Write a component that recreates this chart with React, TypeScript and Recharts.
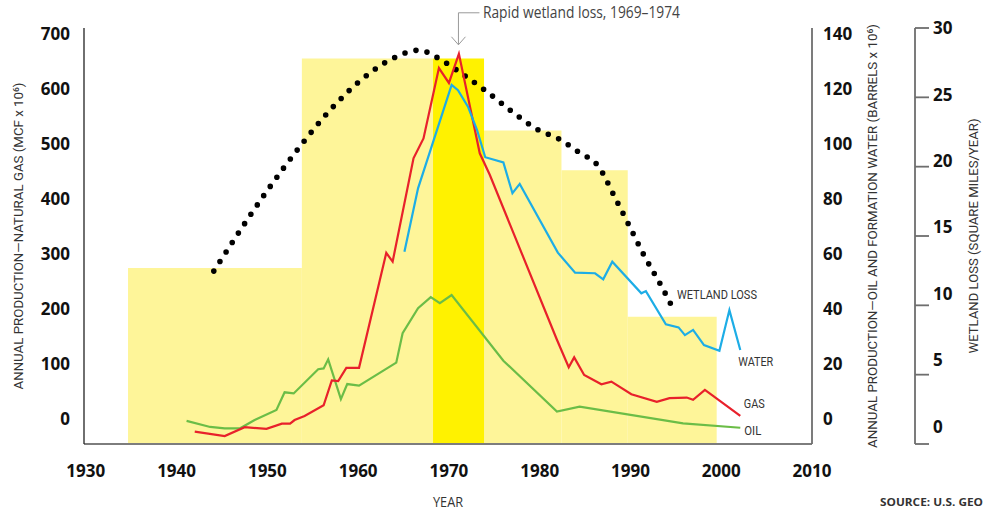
import React from 'react';
import {
  ComposedChart,
  Line,
  XAxis,
  YAxis,
  ReferenceArea,
  ReferenceDot,
  LabelList,
  Label,
} from 'recharts';

const FONT = '"Open Sans", "Noto Sans", "DejaVu Sans", sans-serif';
const TITLE_FONT = 'Roboto, "Open Sans", "DejaVu Sans", sans-serif';

// ---- tick labels ----
const yearTicks = [1930, 1940, 1950, 1960, 1970, 1980, 1990, 2000, 2010];
const gasTicks = [0, 100, 200, 300, 400, 500, 600, 700];
const barrelTicks = [0, 20, 40, 60, 80, 100, 120, 140];
const wetlandTicks = [0, 5, 10, 15, 20, 25, 30];

// ---- natural gas (MCF x 10^6) ----
const gasYears = [1942.0, 1945.3, 1947.5, 1949.9, 1951.6, 1952.5, 1953.0, 1954.1, 1956.2, 1957.1, 1957.8, 1958.7, 1960.1, 1963.1, 1963.8, 1966.1, 1967.2, 1968.9, 1970.0, 1971.1, 1973.4, 1974.5, 1981.9, 1983.2, 1983.8, 1984.9, 1986.8, 1987.9, 1990.1, 1992.9, 1994.3, 1996.2, 1996.9, 1998.2, 2002.1];
const gasValues = [-23, -31, -15, -18, -8.5, -8.5, -2, 5.5, 25, 70, 69, 93, 93, 302, 286, 474, 510, 638, 611, 664, 483, 444, 144, 94, 112, 80, 63, 68, 45, 31, 38, 39, 35, 53, 5.5];

// ---- oil (barrels x 10^6) ----
const oilYears = [1941.1, 1943.7, 1945.3, 1947.0, 1948.6, 1951.0, 1951.9, 1952.9, 1955.6, 1956.2, 1956.7, 1958.1, 1958.8, 1960.1, 1964.2, 1964.9, 1966.6, 1968.0, 1969.0, 1970.3, 1976.0, 1981.9, 1984.4, 1995.8, 2002.1];
const oilValues = [-0.7, -2.9, -3.4, -3.4, -0.4, 3.3, 9.7, 9.3, 18.1, 18.4, 21.7, 7.2, 12.7, 12.1, 20.5, 31.2, 40.3, 44.3, 42.1, 45.1, 21.2, 2.7, 4.5, -1.6, -3.2];

// ---- formation water (barrels x 10^6) ----
const waterYears = [1965.1, 1966.6, 1970.3, 1971.0, 1972.1, 1973.1, 1974.0, 1976.0, 1977.0, 1977.8, 1982.0, 1983.9, 1986.1, 1987.0, 1988.0, 1991.2, 1991.7, 1993.9, 1995.3, 1996.0, 1996.9, 1998.1, 1999.8, 2000.9, 2002.1];
const waterValues = [60.8, 83.9, 121.5, 119.6, 113.6, 105.1, 95.2, 93.3, 82.1, 85.5, 60.5, 53.2, 53, 50.8, 57.2, 45.7, 46.5, 34.4, 33.3, 30.5, 32.4, 26.9, 24.8, 39.6, 25.1];

// ---- wetland loss curve (sq mi / year) ----
const wetlandYears = [1944.1, 1949.8, 1953.6, 1956.8, 1960.6, 1963.8, 1966.7, 1968.9, 1971.0, 1974.0, 1976.9, 1979.7, 1982.1, 1984.4, 1986.5, 1988.2, 1989.9, 1991.5, 1993.4, 1994.9];
const wetlandValues = [12.47, 18.1, 21.46, 24.0, 26.4, 27.8, 28.4, 27.8, 26.9, 25.5, 24.0, 22.7, 22.0, 21.0, 20.0, 17.9, 15.7, 13.6, 11.4, 9.5];

// ---- wetland loss rate by period (bars) ----
const periodStart = [1934.65, 1953.8, 1973.87, 1982.4, 1989.7];
const periodEnd = [1953.8, 1968.25, 1982.4, 1989.7, 1999.5];
const periodLoss = [12.7, 27.8, 22.6, 19.75, 9.18];
const rapidStart = 1968.25;
const rapidEnd = 1973.87;
const rapidLoss = 27.8;

const annotationYear = 1971.05;
const annotationGas = 664;

const toSeries = (xs: number[], vs: number[]) => xs.map((x, i) => ({ year: x, v: vs[i] }));
const gasData = toSeries(gasYears, gasValues);
const oilData = toSeries(oilYears, oilValues);
const waterData = toSeries(waterYears, waterValues);
const wetlandData = toSeries(wetlandYears, wetlandValues);

const RED = '#E8212B';
const BLUE = '#1DADE6';
const GREEN = '#6BBD47';
const PALE = '#FEF599';
const BRIGHT = '#FFF200';

const vertTitle = (text: string, dx: number, length: number) => (props: any) => {
  const vb = props.viewBox || {};
  const cx = vb.x + dx;
  const cy = vb.y + vb.height / 2;
  return (
    <text
      x={cx}
      y={cy}
      transform={`rotate(-90 ${cx} ${cy})`}
      textAnchor="middle"
      dominantBaseline="central"
      fontFamily={TITLE_FONT}
      fontSize={13.5}
      fill="#333"
      textLength={length}
      lengthAdjust="spacingAndGlyphs"
    >
      {text}
    </text>
  );
};

const endLabel = (text: string, lastIndex: number, dx: number, dy: number, length: number) => (p: any) => {
  if (p.index !== lastIndex) return null;
  return (
    <text
      x={p.x + dx}
      y={p.y + dy}
      fontFamily={TITLE_FONT}
      fontSize={12.5}
      fill="#333"
      textLength={length}
      lengthAdjust="spacingAndGlyphs"
    >
      {text}
    </text>
  );
};

const WetlandTick = (props: any) => {
  const { x, y, payload } = props;
  const shift = (30 - payload.value) * 0.57;
  return (
    <text x={x} y={y - shift} dy="0.355em" textAnchor="start" fontFamily={FONT} fontSize={17} fontWeight={700} fill="#111">
      {payload.value}
    </text>
  );
};

const AnnotationShape = (props: any) => {
  const { cx, cy } = props;
  const top = cy - 41;
  const tip = cy - 9;
  return (
    <g>
      <polyline points={`${cx + 21},${top} ${cx},${top} ${cx},${tip}`} fill="none" stroke="#9a9a9a" strokeWidth={1} />
      <polyline points={`${cx - 7},${tip - 8} ${cx},${tip} ${cx + 7},${tip - 8}`} fill="none" stroke="#9a9a9a" strokeWidth={1} />
      <text
        x={cx + 24.5}
        y={cy - 35.5}
        fontFamily={FONT}
        fontSize={15.5}
        fill="#444"
        textLength={197}
        lengthAdjust="spacingAndGlyphs"
      >
        Rapid wetland loss, 1969–1974
      </text>
    </g>
  );
};

const tickStyle = { fontFamily: FONT, fontSize: 17, fontWeight: 700, fill: '#111' };

export default function App() {
  return (
    <div style={{ position: 'absolute', left: 0, top: 0, width: 983, height: 510, background: '#fff' }}>
      <ComposedChart width={983} height={510} margin={{ top: 28, right: 0, bottom: 0, left: 0 }}>
        <XAxis
          dataKey="year"
          type="number"
          domain={[1929.8, 2010]}
          ticks={yearTicks}
          allowDataOverflow
          tickSize={0}
          tickLine={false}
          tickMargin={21}
          height={66}
          axisLine={{ stroke: '#7d7d7d', strokeWidth: 1.8 }}
          tick={tickStyle}
        >
          <Label
            content={(p: any) => {
              const vb = p.viewBox || {};
              return (
                <text
                  x={vb.x + vb.width / 2}
                  y={506.5}
                  textAnchor="middle"
                  fontFamily={FONT}
                  fontSize={15}
                  fill="#333"
                  textLength={30}
                  lengthAdjust="spacingAndGlyphs"
                >
                  YEAR
                </text>
              );
            }}
          />
        </XAxis>
        <YAxis
          yAxisId="gas"
          orientation="left"
          width={84}
          type="number"
          domain={[-45.5, 710.9]}
          ticks={gasTicks}
          allowDataOverflow
          tickSize={0}
          tickLine={false}
          tickMargin={14}
          axisLine={{ stroke: '#222', strokeWidth: 1.3 }}
          tick={tickStyle}
        >
          <Label content={vertTitle('ANNUAL PRODUCTION—NATURAL GAS (MCF x 10⁶)', 18, 307)} />
        </YAxis>
        <YAxis
          yAxisId="bbl"
          orientation="right"
          width={103}
          type="number"
          domain={[-9.1, 142.2]}
          ticks={barrelTicks}
          allowDataOverflow
          tickSize={0}
          tickLine={false}
          tickMargin={11}
          axisLine={{ stroke: '#6e6e6e', strokeWidth: 1.8 }}
          tick={{ ...tickStyle, textAnchor: 'start' }}
        >
          <Label content={vertTitle('ANNUAL PRODUCTION—OIL AND FORMATION WATER (BARRELS x 10⁶)', 60, 424)} />
        </YAxis>
        <YAxis
          yAxisId="wet"
          orientation="right"
          width={68}
          type="number"
          domain={[0, 30]}
          ticks={wetlandTicks}
          allowDataOverflow
          tickSize={14}
          tickMargin={4}
          tickLine={{ stroke: '#6e6e6e', strokeWidth: 1.8 }}
          axisLine={{ stroke: '#6e6e6e', strokeWidth: 1.8 }}
          tick={<WetlandTick />}
        >
          <Label content={vertTitle('WETLAND LOSS (SQUARE MILES/YEAR)', 58, 235)} />
        </YAxis>

        {periodStart.map((s, i) => (
          <ReferenceArea
            key={`p${i}`}
            yAxisId="wet"
            x1={s}
            x2={periodEnd[i]}
            y1={0}
            y2={periodLoss[i]}
            fill={PALE}
            fillOpacity={1}
            stroke="none"
          />
        ))}
        <ReferenceArea yAxisId="wet" x1={rapidStart} x2={rapidEnd} y1={0} y2={rapidLoss} fill={BRIGHT} fillOpacity={1} stroke="none" />

        <Line
          yAxisId="wet"
          data={wetlandData}
          dataKey="v"
          type="monotone"
          stroke="#000"
          strokeWidth={5.6}
          strokeLinecap="round"
          strokeDasharray="0 11.3"
          dot={false}
          activeDot={false}
          isAnimationActive={false}
        >
          <LabelList dataKey="v" content={endLabel('WETLAND LOSS', wetlandData.length - 1, 2, -13, 80)} />
        </Line>
        <Line
          yAxisId="bbl"
          data={oilData}
          dataKey="v"
          type="linear"
          stroke={GREEN}
          strokeWidth={2.2}
          dot={false}
          activeDot={false}
          isAnimationActive={false}
        >
          <LabelList dataKey="v" content={endLabel('OIL', oilData.length - 1, 4, 7.5, 17)} />
        </Line>
        <Line
          yAxisId="gas"
          data={gasData}
          dataKey="v"
          type="linear"
          stroke={RED}
          strokeWidth={2.2}
          dot={false}
          activeDot={false}
          isAnimationActive={false}
        >
          <LabelList dataKey="v" content={endLabel('GAS', gasData.length - 1, 3.5, -8, 21)} />
        </Line>
        <Line
          yAxisId="bbl"
          data={waterData}
          dataKey="v"
          type="linear"
          stroke={BLUE}
          strokeWidth={2.2}
          dot={false}
          activeDot={false}
          isAnimationActive={false}
        >
          <LabelList dataKey="v" content={endLabel('WATER', waterData.length - 1, -2, 16, 35)} />
        </Line>

        <ReferenceDot
          yAxisId="gas"
          x={annotationYear}
          y={annotationGas}
          r={0}
          ifOverflow="visible"
          shape={<AnnotationShape />}
        />
      </ComposedChart>
      <svg width={983} height={510} style={{ position: 'absolute', left: 0, top: 0, pointerEvents: 'none' }}>
        <text
          x={880}
          y={505.5}
          fontFamily={FONT}
          fontSize={11}
          fontWeight={700}
          fill="#333"
          textLength={103}
          lengthAdjust="spacingAndGlyphs"
        >
          SOURCE: U.S. GEO
        </text>
      </svg>
    </div>
  );
}
